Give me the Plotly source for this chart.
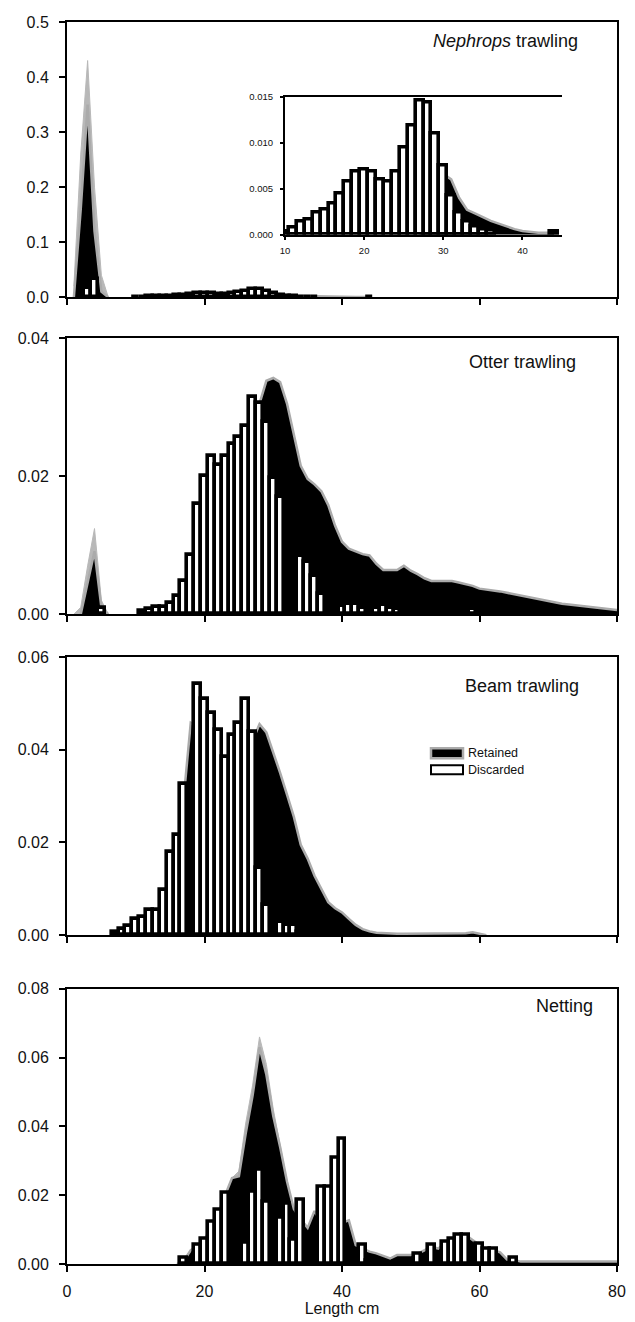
import plotly.graph_objects as go

# ---------------- data (length classes in cm, relative frequency) ----------------
# Nephrops trawling
neph_tot_len = [1, 2, 3, 4, 5, 6]
neph_tot = [0.02, 0.26, 0.43, 0.2, 0.04, 0]
neph_ret_len = [1, 2, 3, 4, 5, 6, 7] + list(range(27, 45))
neph_ret = [0, 0.16, 0.35, 0.12, 0.01, 0, None,
            0, 0.0025, 0.005, 0.0066, 0.006, 0.004, 0.0027, 0.0023, 0.0019, 0.0015,
            0.0012, 0.0009, 0.0006, 0.0004, 0.0003, 0.0002, 0.0002, 0.0002]
neph_dis_len = [3, 4] + list(range(10, 37)) + [44]
neph_dis = [0.017, 0.034,
            0.0003, 0.0008, 0.0014, 0.0016, 0.0024, 0.0027, 0.0034, 0.0045, 0.0058, 0.0069,
            0.0071, 0.0069, 0.006, 0.0058, 0.0069, 0.0095, 0.0119, 0.0146, 0.0143, 0.011,
            0.0075, 0.0043, 0.0024, 0.0014, 0.0009, 0.0006, 0.0004,
            0.0003]

# Otter trawling
otter_tot_len = [1, 2, 3, 4, 5, 6]
otter_tot = [0, 0.001, 0.007, 0.0124, 0.002, 0]
otter_ret_len = [2, 3, 4, 5, 6, 7] + list(range(15, 81))
otter_ret = [0, 0.0045, 0.0091, 0.001, 0, None,
             0, 0, 0.0005, 0.001, 0.002, 0.004, 0.006, 0.009, 0.012, 0.015,
             0.019, 0.023, 0.027, 0.0305, 0.0338, 0.0342, 0.0336, 0.0305, 0.026, 0.0215,
             0.0196, 0.0188, 0.0178, 0.0158, 0.0128, 0.0105, 0.0095, 0.0091, 0.0087, 0.0085,
             0.0073, 0.0064, 0.0064, 0.0064, 0.007, 0.0063, 0.0058, 0.0052, 0.0048, 0.0048,
             0.0048, 0.0048, 0.0046, 0.0044, 0.0041, 0.0037, 0.0036, 0.0035, 0.0033, 0.0031,
             0.0029, 0.0027, 0.0025, 0.0022, 0.002, 0.0018, 0.0016, 0.0015, 0.0014, 0.0013,
             0.0012, 0.0011, 0.001, 0.0009, 0.0007, 0.0006]
otter_dis_len = [5] + list(range(11, 32)) + [34, 35, 36, 37, 40, 41, 42, 43, 45, 46, 47, 48,
                                             51, 52, 53, 54, 59]
otter_dis = [0.0009,
             0.0005, 0.0008, 0.001, 0.001, 0.0016, 0.0026, 0.0048, 0.0086, 0.016, 0.020,
             0.0229, 0.0216, 0.0229, 0.0247, 0.0257, 0.0272, 0.0314, 0.0306, 0.0279, 0.0197,
             0.017,
             0.0085, 0.0075, 0.0055, 0.003, 0.0012, 0.0015, 0.0015, 0.0009, 0.0009, 0.0014,
             0.0009, 0.0008, 0.0003, 0.0003, 0.0003, 0.0003, 0.0008]

# Beam trawling
beam_ret_len = list(range(16, 62))
beam_ret = [0, 0.03, 0.0458, 0.045, 0.04, 0.035, 0.03, 0.03, 0.03, 0.033,
            0.038, 0.042, 0.0455, 0.0437, 0.0395, 0.035, 0.0303, 0.0255, 0.0195, 0.0165,
            0.0128, 0.0098, 0.0071, 0.0058, 0.0049, 0.0035, 0.0022, 0.0013, 0.0008, 0.0005,
            0.0004, 0.0003, 0.0003, 0.0003, 0.0003, 0.0003, 0.0003, 0.0003, 0.0003, 0.0003,
            0.0003, 0.0003, 0.0004, 0.0006, 0.0003, 0]
beam_dis_len = list(range(7, 18)) + list(range(19, 30)) + [31, 32, 33, 34]
beam_dis = [0.0008, 0.0014, 0.0019, 0.0035, 0.0039, 0.0055, 0.0055, 0.0097, 0.018, 0.0217,
            0.0326,
            0.0542, 0.051, 0.0479, 0.0442, 0.0385, 0.0431, 0.0458, 0.051, 0.0439, 0.0144,
            0.0066,
            0.0029, 0.0022, 0.0022, 0.0006]

# Netting
net_tot_len = [24, 25, 26, 27, 28, 29, 30, 31, 32]
net_tot = [0.025, 0.027, 0.041, 0.052, 0.066, 0.058, 0.045, 0.035, 0.024]
net_ret_len = list(range(16, 81))
net_ret = [0, 0.001, 0.004, 0.0052, 0.007, 0.011, 0.015, 0.02, 0.025, 0.0255,
           0.038, 0.049, 0.063, 0.055, 0.043, 0.034, 0.024, 0.016, 0.013, 0.0105,
           0.0154, 0.012, 0.012, 0.012, 0.012, 0.0127, 0.0055, 0.0045, 0.0036, 0.0031,
           0.0023, 0.0016, 0.0026, 0.0026, 0.0026, 0.003, 0.004, 0.005, 0.0045, 0.006,
           0.007, 0.008, 0.0084, 0.0069, 0.0055, 0.0042, 0.004, 0.0034, 0.0013, 0.0012,
           0.0007, 0.0007, 0.0007, 0.0007, 0.0007, 0.0007, 0.0007, 0.0007, 0.0007, 0.0007,
           0.0007, 0.0007, 0.0007, 0.0007, 0.0007]
net_dis_len = [17, 19, 20, 21, 22, 23, 26, 27, 28, 29, 31, 32, 33, 34, 37, 38, 39, 40, 43, 44,
               46, 48, 49, 50, 51, 53, 55, 56, 57, 58, 60, 61, 62, 65]
net_dis = [0.0018, 0.0057, 0.0074, 0.0122, 0.0159, 0.0208, 0.0062, 0.021, 0.0274, 0.0182,
           0.0135, 0.0175, 0.0071, 0.0188, 0.0225, 0.0225, 0.031, 0.0365, 0.0055, 0.001,
           0.0007, 0.0007, 0.0007, 0.0007, 0.0031, 0.0055, 0.0066, 0.0074, 0.0084, 0.0084,
           0.006, 0.0045, 0.0045, 0.0019]

panel_titles = ["<i>Nephrops</i> trawling", "Otter trawling", "Beam trawling", "Netting"]
legend_labels = ["Retained", "Discarded"]
y_ranges = [[0, 0.5], [0, 0.04], [0, 0.06], [0, 0.08]]
y_ticks = [[0, 0.1, 0.2, 0.3, 0.4, 0.5], [0, 0.02, 0.04], [0, 0.02, 0.04, 0.06],
           [0, 0.02, 0.04, 0.06, 0.08]]
y_fmt = [".1f", ".2f", ".2f", ".2f"]
x_ticks = [0, 20, 40, 60, 80]
inset_x_ticks = [10, 20, 30, 40]
inset_y_ticks = [0, 0.005, 0.010, 0.015]

# ---------------- styling ----------------
FONT = "Liberation Sans, Arial, Helvetica, sans-serif"
GREY = "#ababab"
BAR_LINE = 3.6

# the page body has an 8px margin: figure is sized so that the window shows it like the reference
W, H = 627, 1314
ML, MR, MT, MB = 59, 18, 6, 58
PH = H - MT - MB
PW = W - ML - MR
X0, YB = 67, 1264   # screen px of plot-area left edge / bottom edge


def ydom(top_px, bot_px):
    return [(YB - bot_px) / PH, (YB - top_px) / PH]


def xdom(l_px, r_px):
    return [(l_px - X0) / PW, (r_px - X0) / PW]


def px_x(px):
    return (px - X0) / PW


def px_y(py):
    return (YB - py) / PH


domains = [ydom(14, 291), ydom(332, 610), ydom(653, 933), ydom(987, 1264)]

data_sets = [
    (neph_tot_len, neph_tot, neph_ret_len, neph_ret, neph_dis_len, neph_dis),
    (otter_tot_len, otter_tot, otter_ret_len, otter_ret, otter_dis_len, otter_dis),
    (None, None, beam_ret_len, beam_ret, beam_dis_len, beam_dis),
    (net_tot_len, net_tot, net_ret_len, net_ret, net_dis_len, net_dis),
]

fig = go.Figure()
layout = dict()

for i, (tl, tv, rl, rv, dl, dv) in enumerate(data_sets):
    k = i + 1
    xa = "x" if k == 1 else f"x{k}"
    ya = "y" if k == 1 else f"y{k}"
    yo = f"y{k + 4}"
    if tl is not None:
        fig.add_trace(go.Scatter(x=tl, y=tv, mode="lines", fill="tozeroy",
                                 fillcolor="#b8b8b8", line=dict(color="#b8b8b8", width=1),
                                 showlegend=False, hoverinfo="skip",
                                 xaxis=xa, yaxis=ya))
    fig.add_trace(go.Scatter(x=rl, y=rv, mode="lines", fill="tozeroy", fillcolor="black",
                             line=dict(color=GREY, width=2.5), name="Retained",
                             showlegend=False, connectgaps=False,
                             xaxis=xa, yaxis=ya))
    fig.add_trace(go.Bar(x=dl, y=dv, width=1, name="Discarded",
                         marker=dict(color="white", line=dict(color="black", width=BAR_LINE)),
                         showlegend=False, xaxis=xa, yaxis=yo))

    axis_common = dict(showline=True, linecolor="black", linewidth=2, mirror=True,
                       ticks="outside", ticklen=6, tickwidth=2, tickcolor="black",
                       showgrid=False, zeroline=False, fixedrange=True,
                       tickfont=dict(family=FONT, size=16, color="#111111"))
    xkey = "xaxis" if k == 1 else f"xaxis{k}"
    ykey = "yaxis" if k == 1 else f"yaxis{k}"
    layout[xkey] = dict(axis_common, domain=[0, 1], anchor=ya, range=[0, 80],
                        tickvals=x_ticks, showticklabels=(k == 4), ticklabelstandoff=6)
    if k == 4:
        layout[xkey]["title"] = dict(text="Length cm", font=dict(family=FONT, size=16,
                                                                 color="#111111"), standoff=2)
    layout[ykey] = dict(axis_common, domain=domains[i], anchor=xa, range=y_ranges[i],
                        tickvals=y_ticks[i], tickformat=y_fmt[i], ticklabelstandoff=7)
    layout[f"yaxis{k + 4}"] = dict(overlaying=ya, anchor=xa, range=y_ranges[i],
                                   visible=False, fixedrange=True)

# inset (Nephrops, 10-45 cm)
fig.add_trace(go.Scatter(x=neph_ret_len, y=neph_ret, mode="lines", fill="tozeroy",
                         fillcolor="black", line=dict(color=GREY, width=2.5),
                         showlegend=False, connectgaps=False, xaxis="x5", yaxis="y9"))
fig.add_trace(go.Bar(x=neph_dis_len, y=neph_dis, width=1, showlegend=False,
                     marker=dict(color="white", line=dict(color="black", width=BAR_LINE)),
                     xaxis="x5", yaxis="y10"))
inset_common = dict(showline=True, linecolor="black", linewidth=2,
                    ticks="outside", ticklen=3, tickwidth=1.5, tickcolor="black",
                    showgrid=False, zeroline=False, fixedrange=True,
                    tickfont=dict(family=FONT, size=9.5, color="#111111"))
layout["xaxis5"] = dict(inset_common, domain=xdom(285, 562), anchor="y9", range=[10, 45],
                        tickvals=inset_x_ticks, mirror=True, ticklabelstandoff=3)
layout["yaxis9"] = dict(inset_common, domain=ydom(89, 228), anchor="x5", range=[0, 0.015],
                        tickvals=inset_y_ticks, tickformat=".3f", mirror=False,
                        ticklabelstandoff=5)
layout["yaxis10"] = dict(overlaying="y9", anchor="x5", range=[0, 0.015], visible=False,
                         fixedrange=True)

# panel labels
label_pos = [(580, 33), (578, 356), (581, 682), (595, 1004)]
annotations = []
for txt, (px, py) in zip(panel_titles, label_pos):
    annotations.append(dict(text=txt, xref="paper", yref="paper",
                            x=px_x(px), y=px_y(py),
                            xanchor="right", yanchor="middle", showarrow=False,
                            font=dict(family=FONT, size=18, color="#111111")))

# legend (drawn as key boxes + text in the Beam trawling panel)
shapes = [
    dict(type="rect", xref="paper", yref="paper",
         x0=px_x(431), x1=px_x(463), y0=px_y(755), y1=px_y(745),
         fillcolor="black", line=dict(color=GREY, width=2.5)),
    dict(type="rect", xref="paper", yref="paper",
         x0=px_x(431), x1=px_x(463), y0=px_y(771), y1=px_y(762),
         fillcolor="white", line=dict(color="black", width=2)),
]
for txt, py in zip(legend_labels, [750, 767]):
    annotations.append(dict(text=txt, xref="paper", yref="paper",
                            x=px_x(466), y=px_y(py), xanchor="left", yanchor="middle",
                            showarrow=False,
                            font=dict(family=FONT, size=12.5, color="#111111")))

fig.update_layout(
    width=W, height=H,
    margin=dict(l=ML, r=MR, t=MT, b=MB, pad=0),
    paper_bgcolor="white", plot_bgcolor="white",
    barmode="overlay", bargap=0,
    showlegend=False,
    annotations=annotations,
    shapes=shapes,
    font=dict(family=FONT, color="#111111"),
    **layout,
)

fig.write_html("out.html")
